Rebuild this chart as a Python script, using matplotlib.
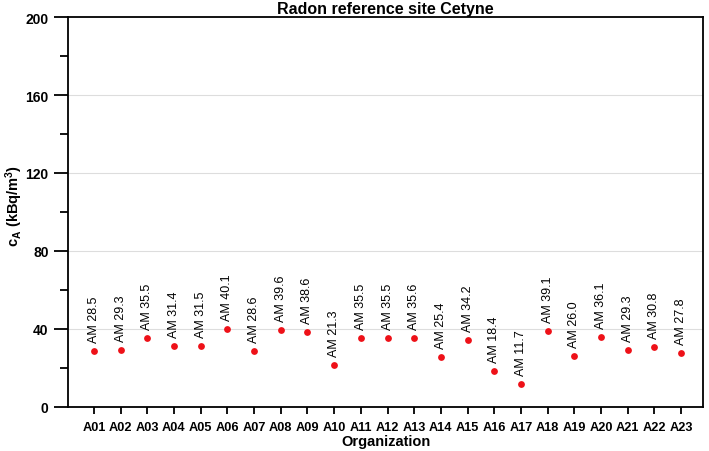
import matplotlib
matplotlib.use("Agg")
import matplotlib.pyplot as plt
from matplotlib.ticker import MultipleLocator

plt.rcParams['font.family'] = ['Liberation Sans', 'DejaVu Sans']
plt.rcParams['mathtext.fontset'] = 'custom'
plt.rcParams['mathtext.rm'] = 'Liberation Sans'
plt.rcParams['mathtext.bf'] = 'Liberation Sans:bold'
plt.rcParams['mathtext.it'] = 'Liberation Sans:italic'

organizations = ["A%02d" % i for i in range(1, 24)]
values = [28.5, 29.3, 35.5, 31.4, 31.5, 40.1, 28.6, 39.6, 38.6, 21.3, 35.5, 35.5,
          35.6, 25.4, 34.2, 18.4, 11.7, 39.1, 26.0, 36.1, 29.3, 30.8, 27.8]
labels = ["AM %.1f" % v for v in values]
yticks = [0, 40, 80, 120, 160, 200]

fig = plt.figure(figsize=(7.09, 4.52), dpi=100)
ax = fig.add_axes([68/709, 1-408/452, (703-68)/709, (408-18)/452])

x = list(range(1, len(values) + 1))
ax.scatter(x, values, s=24, color='#ee1118', zorder=3, linewidths=0)
for xi, v, lab in zip(x, values, labels):
    ax.annotate(lab, (xi, v), xytext=(0, 6.5), textcoords='offset points',
                rotation=90, ha='center', va='bottom', fontsize=9)

ax.set_xlim(0.03, 23.82)
ax.set_ylim(0, 200)
ax.set_xticks(x)
ax.set_xticklabels(organizations, fontweight='bold', fontsize=9.2)
ax.set_yticks(yticks)
ax.set_yticklabels([str(t) for t in yticks], fontweight='bold', fontsize=10)
ax.yaxis.set_minor_locator(MultipleLocator(20))
ax.tick_params(axis='y', which='major', length=10, width=1.3, pad=4)
ax.tick_params(axis='y', which='minor', length=6, width=1.3)
ax.tick_params(axis='x', which='major', length=5, width=1.3, pad=5)
for s in ax.spines.values():
    s.set_linewidth(1.3)

for g in [40, 80, 120, 160]:
    ax.axhline(g, color='#dddddd', lw=0.8, zorder=1)

ax.set_title("Radon reference site Cetyne", fontweight='bold', fontsize=11.5, pad=3)
ax.set_xlabel("Organization", fontweight='bold', fontsize=10.5, labelpad=1)
ax.set_ylabel(r"$\mathbf{c_A}$ (kBq/m$^\mathbf{3}$)", fontweight='bold', fontsize=10.5)
ax.yaxis.set_label_coords(-0.068, 0.518)

fig.savefig("out.png", dpi=100)
